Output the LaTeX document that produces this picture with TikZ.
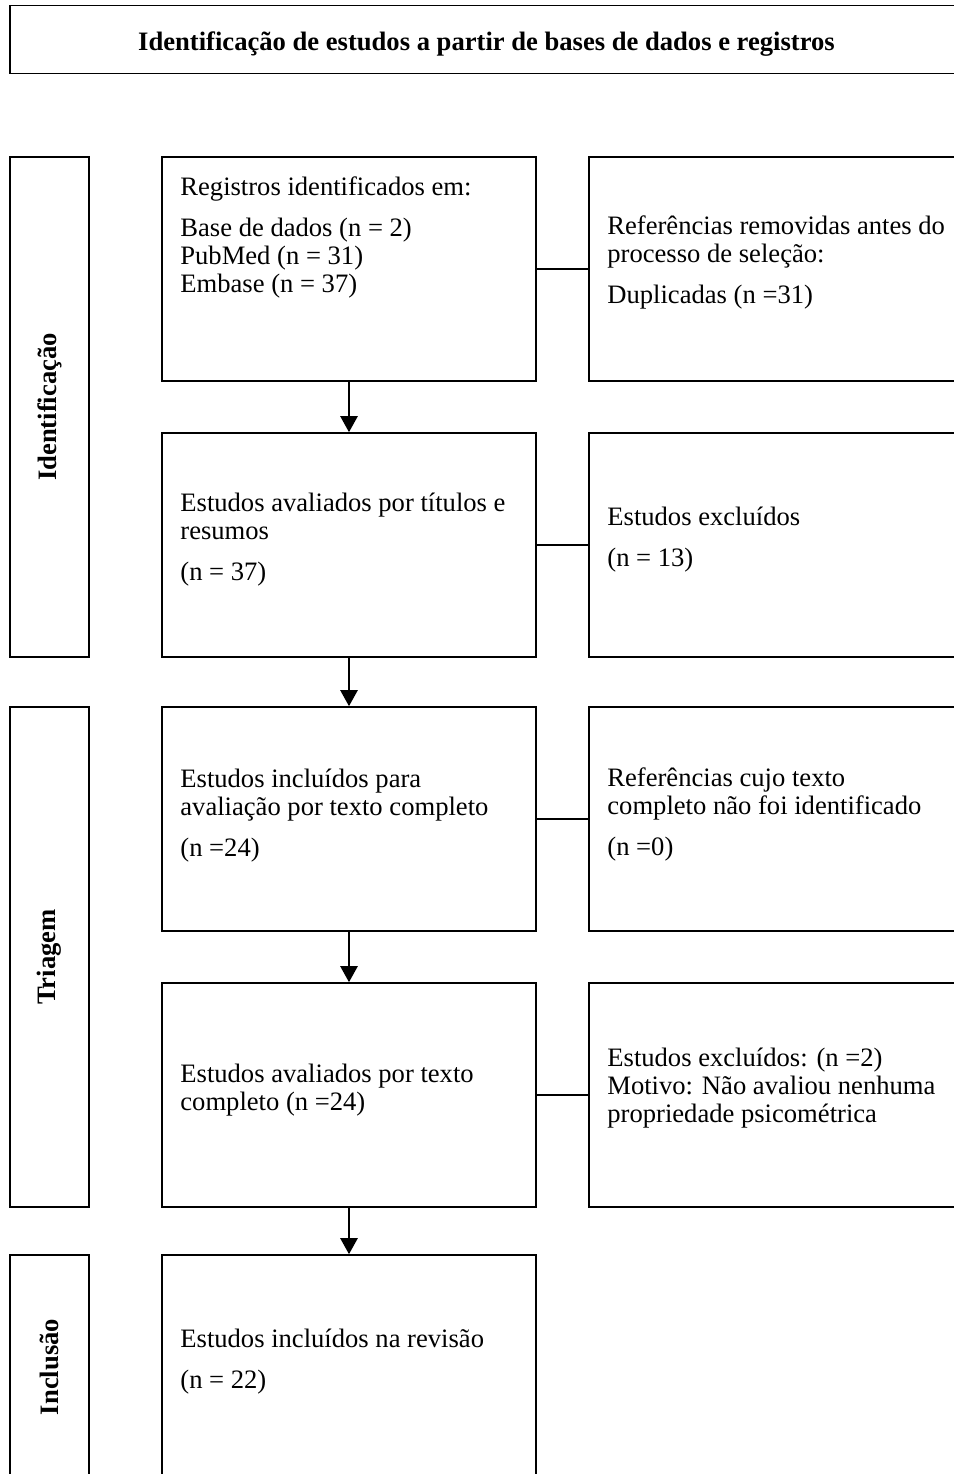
\documentclass[tikz,border=0pt]{standalone}
\usepackage{fontspec}
\setmainfont{Liberation Serif}
\usetikzlibrary{arrows.meta}
\tikzset{
  box/.style={draw=black, line width=0.8pt, rectangle, inner sep=0pt},
  midbox/.style={box, minimum width=187pt, minimum height=112pt},
  phasebox/.style={box, minimum width=39.5pt, minimum height=250pt},
  txt/.style={anchor=base west, align=left, inner sep=0pt, font=\fontsize{13.3}{14}\selectfont},
  phase/.style={rotate=90, font=\fontsize{13.3}{14}\selectfont\bfseries, inner sep=0pt},
  link/.style={line width=0.8pt},
  flow/.style={line width=1.2pt, -{Triangle[width=8.5pt,length=8pt]}}
}
\begin{document}
\begin{tikzpicture}[x=0.5pt, y=-0.5pt]
\useasboundingbox (0,0) rectangle (954,1474);
\clip (0,0) rectangle (954,1474);
% header
\node[box, minimum width=476.5pt, minimum height=34pt] (head) at (486.5,39.5) {};
\node[font=\fontsize{13.3}{14}\selectfont\bfseries, inner sep=0pt] (headtxt) at (486.5,44) {Identificação de estudos a partir de bases de dados e registros};
% phase boxes
\node[phasebox] (p1) at (49.5,407) {};
\node[phasebox] (p2) at (49.5,957) {};
\node[box, minimum width=39.5pt, minimum height=112pt] (p3) at (49.5,1367) {};
\node[phase] (l1) at (p1.center) {Identificação};
\node[phase] (l2) at (p2.center) {Triagem};
\node[phase] (l3) at (p3.center) {Inclusão};
% middle boxes
\node[midbox] (b1) at (349,269) {};
\node[midbox] (b2) at (349,545) {};
\node[midbox] (b3) at (349,819) {};
\node[midbox] (b4) at (349,1095) {};
\node[midbox] (b5) at (349,1367) {};
% right boxes
\node[midbox] (r1) at (776,269) {};
\node[midbox] (r2) at (776,545) {};
\node[midbox] (r3) at (776,819) {};
\node[midbox] (r4) at (776,1095) {};
% texts (anchor = baseline of the last line)
\node[txt] (tb1) at (180,292) {Registros identificados em:\\[6.5pt]Base de dados (n = 2)\\PubMed (n = 31)\\Embase (n = 37)};
\node[txt] (tr1) at (607,303) {Referências removidas antes do\\processo de seleção:\\[6.5pt]Duplicadas (n =31)};
\node[txt] (tb2) at (180,580) {Estudos avaliados por títulos e\\resumos\\[6.5pt](n = 37)};
\node[txt] (tr2) at (607,566) {Estudos excluídos\\[6.5pt](n = 13)};
\node[txt] (tb3) at (180,856) {Estudos incluídos para\\avaliação por texto completo\\[6.5pt](n =24)};
\node[txt] (tr3) at (607,855) {Referências cujo texto\\completo não foi identificado\\[6.5pt](n =0)};
\node[txt] (tb4) at (180,1110) {Estudos avaliados por texto\\completo (n =24)};
\node[txt] (tr4) at (607,1122) {Estudos excluídos: (n =2)\\Motivo: Não avaliou nenhuma\\propriedade psicométrica};
\node[txt] (tb5) at (180,1388) {Estudos incluídos na revisão\\[6.5pt](n = 22)};
% connectors
\draw[link] (b1.east) -- (r1.west);
\draw[link] (b2.east) -- (r2.west);
\draw[link] (b3.east) -- (r3.west);
\draw[link] (b4.east) -- (r4.west);
\draw[flow] (b1.south) -- (b2.north);
\draw[flow] (b2.south) -- (b3.north);
\draw[flow] (b3.south) -- (b4.north);
\draw[flow] (b4.south) -- (b5.north);
\end{tikzpicture}
\end{document}
